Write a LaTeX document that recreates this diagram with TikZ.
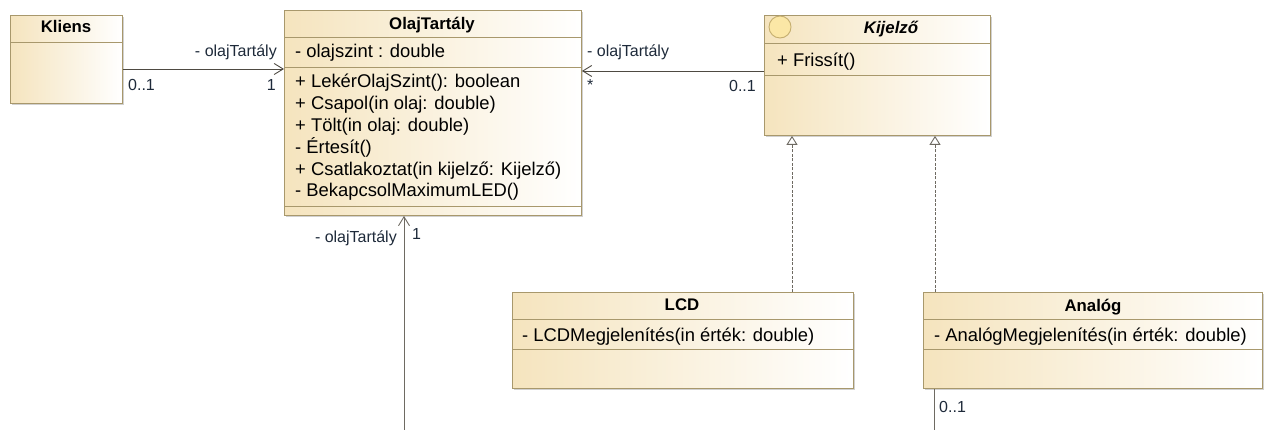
\documentclass[tikz,border=0pt]{standalone}
\usepackage{fontspec}
\setmainfont{Liberation Sans}
\usetikzlibrary{arrows.meta,shadows,calc}
\definecolor{umlborder}{HTML}{A8986C}
\definecolor{umlfill}{HTML}{F5E4BE}
\definecolor{lbl}{HTML}{1E2A3A}
\definecolor{assoc}{HTML}{4E4A42}
\definecolor{realz}{HTML}{6E6A62}
\definecolor{iconfill}{HTML}{FBE7A6}
\definecolor{iconline}{HTML}{C4AD6E}
\tikzset{
  classbox/.style={draw=umlborder, line width=0.9pt, left color=umlfill, right color=white,
    anchor=north west, inner sep=0pt,
    drop shadow={shadow xshift=2pt, shadow yshift=-2pt, fill=black, opacity=0.18}},
  divider/.style={draw=umlborder, line width=0.9pt},
  title/.style={font=\fontsize{16.8}{20}\selectfont\bfseries, anchor=base, inner sep=0pt},
  member/.style={font=\fontsize{18.4}{22}\selectfont, anchor=base west, inner sep=0pt},
  role/.style={font=\fontsize{16}{19}\selectfont, text=lbl, inner sep=0pt},
  assocline/.style={draw=assoc, line width=0.9pt,
    -{Straight Barb[length=9pt,width=11pt,line width=0.9pt]}},
  navline/.style={draw=assoc, line width=0.9pt},
  realline/.style={draw=realz, line width=0.9pt, dash pattern=on 3pt off 1.5pt,
    -{Triangle[open,fill=white,length=9pt,width=11pt,line width=0.9pt]}},
}
\begin{document}
\begin{tikzpicture}[x=1pt,y=-1pt]
\useasboundingbox (0,0) rectangle (1265,430);

% ---- Kliens
\node[classbox, minimum width=112pt, minimum height=88pt] (kliens) at (10,15) {};
\draw[divider] ($(kliens.north west)+(0,27)$) -- ($(kliens.north east)+(0,27)$);
\node[title] (kliensT) at (66,33) {Kliens};

% ---- OlajTartály
\node[classbox, minimum width=297pt, minimum height=205pt] (olaj) at (284,10) {};
\draw[divider] ($(olaj.north west)+(0,27)$) -- ($(olaj.north east)+(0,27)$);
\draw[divider] ($(olaj.north west)+(0,57)$) -- ($(olaj.north east)+(0,57)$);
\draw[divider] ($(olaj.north west)+(0,196)$) -- ($(olaj.north east)+(0,196)$);
\node[title] (olajT) at (432,30) {OlajTartály};
\node[member] (olajA) at (295,58) {- olajszint : double};
\node[member] (olajM1) at (295,88) {+ LekérOlajSzint(): boolean};
\node[member] (olajM2) at (295,109.8) {+ Csapol(in olaj: double)};
\node[member] (olajM3) at (295,131.6) {+ Tölt(in olaj: double)};
\node[member] (olajM4) at (295,153.4) {- Értesít()};
\node[member] (olajM5) at (295,175.2) {+ Csatlakoztat(in kijelző: Kijelző)};
\node[member] (olajM6) at (295,197) {- BekapcsolMaximumLED()};

% ---- Kijelző (interface)
\node[classbox, minimum width=226pt, minimum height=120pt] (kijelzo) at (764,15) {};
\draw[divider] ($(kijelzo.north west)+(0,28)$) -- ($(kijelzo.north east)+(0,28)$);
\draw[divider] ($(kijelzo.north west)+(0,60)$) -- ($(kijelzo.north east)+(0,60)$);
\node[circle, draw=iconline, fill=iconfill, line width=0.9pt, minimum size=22pt, inner sep=0pt] (kijelzoIcon) at (780,27) {};
\node[title, font=\fontsize{16.8}{20}\selectfont\bfseries\itshape] (kijelzoT) at (891,34) {Kijelző};
\node[member] (kijelzoM1) at (777,67) {+ Frissít()};

% ---- LCD
\node[classbox, minimum width=341pt, minimum height=96pt] (lcd) at (512,292) {};
\draw[divider] ($(lcd.north west)+(0,27)$) -- ($(lcd.north east)+(0,27)$);
\draw[divider] ($(lcd.north west)+(0,57)$) -- ($(lcd.north east)+(0,57)$);
\node[title] (lcdT) at (682,310) {LCD};
\node[member] (lcdM1) at (522,341) {- LCDMegjelenítés(in érték: double)};

% ---- Analóg
\node[classbox, minimum width=339pt, minimum height=96pt] (analog) at (923,292) {};
\draw[divider] ($(analog.north west)+(0,27)$) -- ($(analog.north east)+(0,27)$);
\draw[divider] ($(analog.north west)+(0,57)$) -- ($(analog.north east)+(0,57)$);
\node[title] (analogT) at (1093,311) {Analóg};
\node[member] (analogM1) at (934,341) {- AnalógMegjelenítés(in érték: double)};

% ---- Kliens -> OlajTartály
\coordinate (kOut) at ($(kliens.north east)+(0,54)$);
\draw[assocline] (kOut) -- (kOut -| olaj.west);
\node[role, anchor=base east] (r1) at (277,57) {- olajTartály};
\node[role, anchor=base west] (m1a) at (128,91) {0..1};
\node[role, anchor=base east] (m1b) at (276,91) {1};

% ---- Kijelző -> OlajTartály
\coordinate (jOut) at ($(kijelzo.north west)+(0,56)$);
\draw[assocline] (jOut) -- (jOut -| olaj.east);
\node[role, anchor=base west] (r2) at (587,57) {- olajTartály};
\node[role, anchor=base west] (m2a) at (587,91) {*};
\node[role, anchor=base east] (m2b) at (756,92) {0..1};

% ---- association coming from below into OlajTartály
\coordinate (olajIn) at ($(olaj.south west)+(120,0)$);
\coordinate (belowEnd) at (404,430);
\draw[assocline, draw=realz] (belowEnd) -- (olajIn);
\node[role, anchor=base east] (r3) at (397,243) {- olajTartály};
\node[role, anchor=base west] (m3) at (412,240) {1};

% ---- Analóg association leaving downward
\coordinate (anOut) at ($(analog.south west)+(11,0)$);
\coordinate (anEnd) at (934,430);
\draw[navline, draw=realz] (anOut) -- (anEnd);
\node[role, anchor=base west] (m4) at (939,412) {0..1};

% ---- realizations
\coordinate (lcdTop) at ($(lcd.north west)+(280,0)$);
\coordinate (anTop) at ($(analog.north west)+(12,0)$);
\draw[realline] (lcdTop) -- (lcdTop |- kijelzo.south);
\draw[realline] (anTop) -- (anTop |- kijelzo.south);
\end{tikzpicture}
\end{document}
